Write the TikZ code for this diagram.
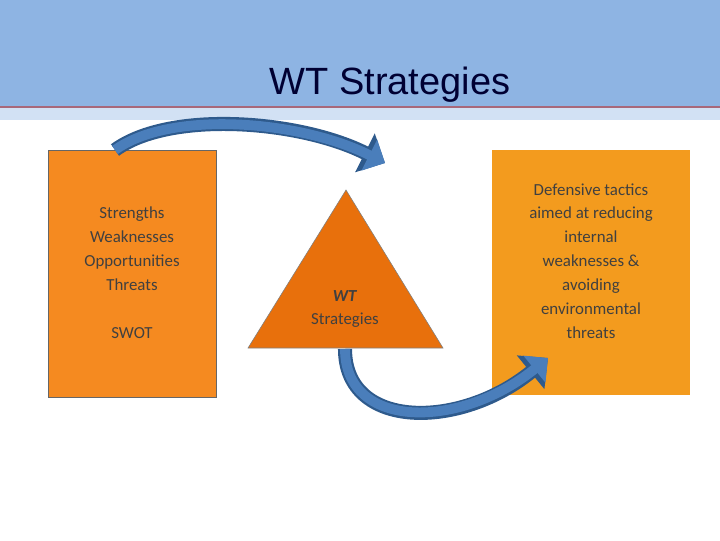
\documentclass[tikz,border=0pt]{standalone}
\usepackage{fontspec}
\setmainfont{Carlito}
\newfontfamily\titlefont{Liberation Sans}
\usetikzlibrary{arrows.meta,shapes.geometric}
\definecolor{bandblue}{HTML}{8EB4E3}
\definecolor{lineshade}{HTML}{A8687A}
\definecolor{boxorange}{HTML}{F58A20}
\definecolor{triorange}{HTML}{E8700C}
\definecolor{rightorange}{HTML}{F39B1E}
\definecolor{arrowblue}{HTML}{4A7EBB}
\definecolor{arrowedge}{HTML}{2E5A8C}
\tikzset{
  boxtext/.style={align=center, font=\fontsize{12}{17}\selectfont, text=black!75},
  bigarrow/.style={arrowedge, line width=10pt, -{Triangle[length=16pt, width=30pt]}},
  innerarrow/.style={arrowblue, line width=7pt, -{Triangle[length=12.5pt, width=24pt]}}
}
\begin{document}
\begin{tikzpicture}[x=0.025cm, y=-0.025cm]
    \useasboundingbox (0, 0) rectangle (720, 540);

    % Title band
    \fill [bandblue] (0, 0) rectangle (720, 108);
    \fill [bandblue!40] (0, 108) rectangle (720, 120);
    \draw [lineshade, line width=2pt] (0, 107) -- (720, 107);
    \node (title) at (390, 85) {\titlefont\fontsize{27}{30}\selectfont\color{black!80!blue} WT Strategies};

    % Left box
    \node (swot) [draw=black!60, fill=boxorange, minimum width=168*0.025cm,
          minimum height=247*0.025cm] at (132, 273.5) {};
    \node (swottext) [boxtext] at (132, 249) {Strengths\\Weaknesses\\Opportunities\\Threats};
    \node (swotlabel) [boxtext] at (132, 333) {SWOT};

    % Triangle
    \draw [fill=triorange, draw=black!50] (346, 190) -- (443, 348) -- (248, 348) -- cycle;
    \coordinate (apex) at (346, 190);
    \node (wt) [boxtext] at (345, 309) {\textit{\textbf{WT}}\\Strategies};

    % Right box
    \node (tactics) [fill=rightorange, minimum width=198*0.025cm,
          minimum height=245*0.025cm] at (591, 272.5) {};
    \node (tacticstext) [boxtext] at (591, 261) {Defensive tactics\\aimed at reducing\\internal\\weaknesses \&\\avoiding\\environmental\\threats};

    % Arrows
    \coordinate (topstart) at (115, 150);
    \coordinate (topend) at (385, 163);
    \draw [bigarrow] (topstart) .. controls (170, 110) and (300, 120) .. (topend);
    \draw [innerarrow] (topstart) .. controls (170, 110) and (300, 120) .. (topend);
    \coordinate (botstart) at (345, 349);
    \coordinate (botend) at (548, 358);
    \draw [bigarrow] (botstart) .. controls (345, 430) and (460, 430) .. (botend);
    \draw [innerarrow] (botstart) .. controls (345, 430) and (460, 430) .. (botend);
\end{tikzpicture}
\end{document}
